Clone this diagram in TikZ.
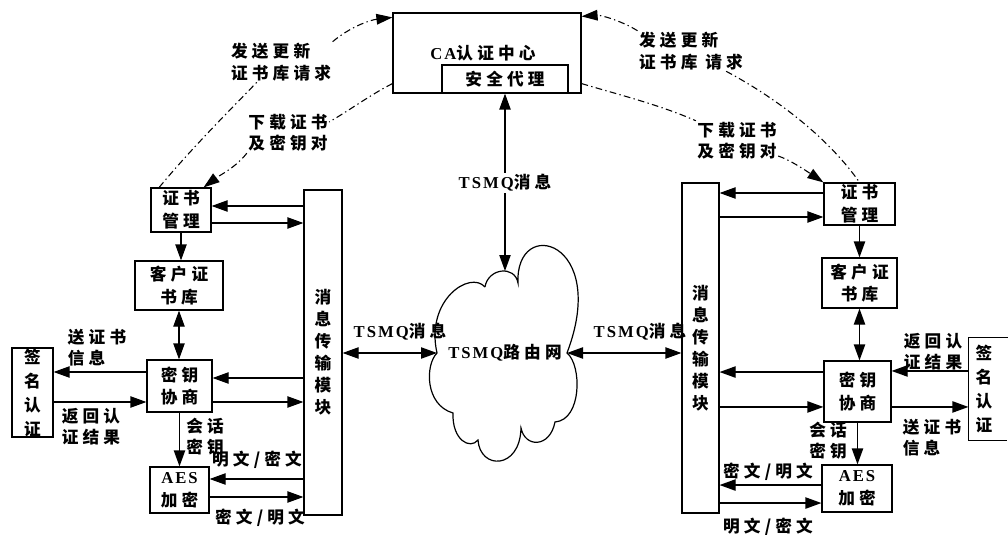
\documentclass[tikz,border=0pt]{standalone}
\usepackage{fontspec}
\setmainfont{Liberation Serif}
\newfontfamily\cjk{Noto Sans CJK SC}[LetterSpace=25]
\newfontfamily\lat{Liberation Serif}[LetterSpace=12]
\usetikzlibrary{arrows.meta}
\begin{document}
\begin{tikzpicture}[x=0.75pt,y=-0.75pt,
 tx/.style={font=\cjk\bfseries\fontsize{12.5}{16}\selectfont, align=center, inner sep=1pt},
 bx/.style 2 args={draw, line width=0.9pt, inner sep=0pt, align=center, font=\cjk\bfseries\fontsize{12.5}{17}\selectfont,
   minimum width=#1*0.75pt, minimum height=#2*0.75pt},
 vfont/.style={font=\cjk\bfseries\fontsize{12.5}{16.5}\selectfont},
 sfont/.style={font=\cjk\bfseries\fontsize{12.5}{18}\selectfont},
 arr/.style={line width=0.9pt, -{Triangle[length=12pt,width=8.5pt]}},
 darr/.style={line width=0.9pt, {Triangle[length=12pt,width=8.5pt]}-{Triangle[length=12pt,width=8.5pt]}},
 dd/.style={line width=0.8pt, dash pattern=on 5pt off 2.5pt on 1pt off 2.5pt},
 dtip/.style={-{Triangle[length=12pt,width=8pt]}},
]
\useasboundingbox (0,0) rectangle (1008,535);

% CA
\node[bx={188}{80}] (ca) at (487,53) {};
\node[tx] (catext) at (483,53) {{\lat CA}认证中心};
\node[bx={126}{28}] (agent) at (505,79) {安全代理};

% message modules
\node[bx={38}{325}, vfont] (lmod) at (323,352.5) {消\\息\\传\\输\\模\\块};
\node[bx={37}{330}, vfont] (rmod) at (700.5,348) {消\\息\\传\\输\\模\\块};

% left boxes
\node[bx={60}{44}] (lcm) at (181,210) {证书\\管理};
\node[bx={88}{49}] (lcs) at (179,285.5) {客户证\\书库};
\node[bx={65}{52}] (lkn) at (179.5,386) {密钥\\协商};
\node[bx={59}{46}] (laes) at (179.5,490) {{\lat AES}\\加密};
\node[bx={41}{89}, sfont] (lsig) at (32.5,392.5) {签\\名\\认\\证};

% right boxes
\node[bx={71}{42}] (rcm) at (859.5,204) {证书\\管理};
\node[bx={75}{50}] (rcs) at (859.5,283) {客户证\\书库};
\node[bx={67}{61}] (rkn) at (857.5,391.5) {密钥\\协商};
\node[bx={70}{47}] (raes) at (857,488.5) {{\lat AES}\\加密};
\node[bx={30}{102}, sfont, draw=none] (rsig) at (984,389) {签\\名\\认\\证};
\draw[line width=0.9pt] (rsig.north east) ++(9,0) -- (rsig.north west) -- (rsig.south west) -- ++(39,0);

% cloud
\draw[line width=0.9pt] (485,287) .. controls (488,268) and (515,265) .. (518,283)
  .. controls (515,215) and (610,240) .. (567,353) coordinate (cr)
  .. controls (582,365) and (582,420) .. (555,422)
  .. controls (550,448) and (525,448) .. (521,428)
  .. controls (520,470) and (480,470) .. (478,440)
  .. controls (470,450) and (452,440) .. (453,413)
  .. controls (425,405) and (425,365) .. (437,353) coordinate (cl)
  .. controls (425,300) and (470,270) .. (485,287);
\coordinate (ct) at (505,271);
\node[tx] (net) at (505,353) {{\lat TSMQ}路由网};

% labels
\node[tx] (tq) at (505,183) {{\lat TSMQ}消息};
\node[tx] (tql) at (400,332) {{\lat TSMQ}消息};
\node[tx] (tqr) at (640,332) {{\lat TSMQ}消息};
\node[tx, align=left] (lsend) at (281,62) {发送更新\\证书库请求};
\node[tx, align=left] (ldl) at (288,133) {下载证书\\及密钥对};
\node[tx, align=left] (rsend) at (691,51) {发送更新\\证书库 请求};
\node[tx, align=left] (rdl) at (737,141) {下载证书\\及密钥对};
\node[tx, align=left] (lsendc) at (97,348) {送证书\\信息};
\node[tx, align=left] (lret) at (91,427) {返回认\\证结果};
\node[tx, align=left] (lsk) at (205,437) {会话\\密钥};
\node[tx] (lpc) at (257,460) {明文/密文};
\node[tx] (lcp) at (260,518) {密文/明文};
\node[tx, align=left] (rret) at (933,352) {返回认\\证结果};
\node[tx, align=left] (rsendc) at (932,438) {送证书\\信息};
\node[tx, align=left] (rsk) at (828,441) {会话\\密钥};
\node[tx] (rcp) at (768,472) {密文/明文};
\node[tx] (rpc) at (768,527) {明文/密文};

% central arrows
\draw[arr] (tq.north) -- (agent.south);
\draw[arr] (tq.south) -- (ct);
\draw[darr] (lmod.east |- cl) -- (cl);
\draw[darr] (cr) -- (cr -| rmod.west);

% left arrows
\draw[arr] ([yshift=3pt]lcm.east -| lmod.west) -- ([yshift=3pt]lcm.east);
\draw[arr] ([yshift=-9.75pt]lcm.east) -- ([yshift=-9.75pt]lcm.east -| lmod.west);
\draw[arr] (lcm.south) -- (lcm.south |- lcs.north);
\draw[darr] (lcs.south) -- (lcs.south |- lkn.north);
\draw[arr] ([yshift=6pt]lkn.east -| lmod.west) -- ([yshift=6pt]lkn.east);
\draw[arr] ([yshift=-12pt]lkn.east) -- ([yshift=-12pt]lkn.east -| lmod.west);
\draw[arr] ([yshift=10.5pt]lkn.west) -- ([yshift=10.5pt]lkn.west -| lsig.east);
\draw[arr] ([yshift=-12pt]lkn.west -| lsig.east) -- ([yshift=-12pt]lkn.west);
\draw[arr] (lkn.south) -- (lkn.south |- laes.north);
\draw[arr] ([yshift=8.25pt]laes.east -| lmod.west) -- ([yshift=8.25pt]laes.east);
\draw[arr] ([yshift=-5.25pt]laes.east) -- ([yshift=-5.25pt]laes.east -| lmod.west);

% right arrows
\draw[arr] ([yshift=8.25pt]rcm.west) -- ([yshift=8.25pt]rcm.west -| rmod.east);
\draw[arr] ([yshift=-9.75pt]rcm.west -| rmod.east) -- ([yshift=-9.75pt]rcm.west);
\draw[arr] (rcm.south) -- (rcm.south |- rcs.north);
\draw[darr] (rcs.south) -- (rcs.south |- rkn.north);
\draw[arr] ([yshift=14.6pt]rkn.west) -- ([yshift=14.6pt]rkn.west -| rmod.east);
\draw[arr] ([yshift=-11.6pt]rkn.west -| rmod.east) -- ([yshift=-11.6pt]rkn.west);
\draw[arr] ([yshift=15.4pt]rkn.east -| rsig.west) -- ([yshift=15.4pt]rkn.east);
\draw[arr] ([yshift=-11.6pt]rkn.east) -- ([yshift=-11.6pt]rkn.east -| rsig.west);
\draw[arr] (rkn.south) -- (rkn.south |- raes.north);
\draw[arr] ([yshift=2.6pt]raes.west) -- ([yshift=2.6pt]raes.west -| rmod.east);
\draw[arr] ([yshift=-10.9pt]raes.west -| rmod.east) -- ([yshift=-10.9pt]raes.west);

% dash-dot curves
\draw[dd] (lcm.134) .. controls (190,150) and (230,110) .. (lsend.220);
\draw[dd, dtip] (lsend.north east) .. controls (350,27) and (370,20) .. ([yshift=-3.75pt]ca.north west);
\draw[dd] ([yshift=7.5pt]ca.south west) .. controls (370,95) and (350,110) .. (ldl.15);
\draw[dd, dtip] (ldl.south west) .. controls (235,168) and (220,175) .. (lcm.45);
\draw[dd, dtip] (rsend.north west) .. controls (620,20) and (600,15) .. ([yshift=-3pt]ca.north east);
\draw[dd] (rsend.-30) .. controls (780,100) and (830,140) .. (rcm.north);
\draw[dd] ([yshift=7.5pt]ca.south east) .. controls (620,95) and (660,105) .. (rdl.north west);
\draw[dd, dtip] (rdl.-20) .. controls (790,160) and (805,170) .. (rcm.north west);
\end{tikzpicture}
\end{document}
